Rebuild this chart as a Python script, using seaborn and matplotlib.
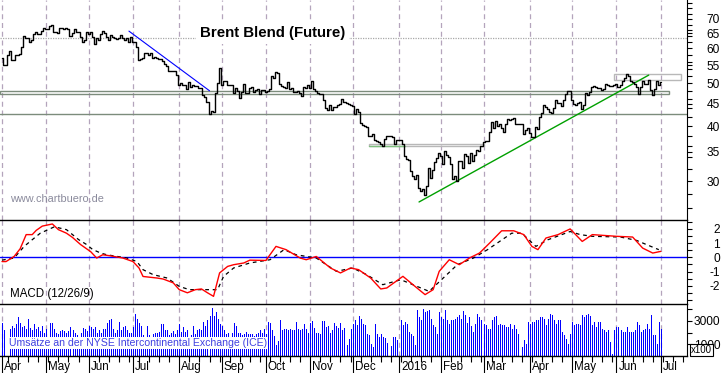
import numpy as np
import pandas as pd
import matplotlib
matplotlib.use("Agg")
import matplotlib.pyplot as plt
import seaborn as sns
from matplotlib.patches import Rectangle
from matplotlib.ticker import FixedLocator, FixedFormatter, NullFormatter

# ---------------- data ----------------
close_15_apr = [57.10, 54.95, 54.95, 58.12, 59.10, 56.57, 56.57, 57.87, 57.93, 58.43, 60.32, 63.98, 63.45, 63.45, 62.08, 62.72, 64.85, 65.28, 64.83, 64.64, 65.84, 66.78]
close_15_may = [66.46, 66.46, 67.52, 67.77, 65.54, 65.39, 64.91, 66.86, 66.81, 66.59, 66.81, 66.27, 64.02, 65.03, 66.54, 65.37, 65.37, 63.72, 62.06, 62.58, 65.56]
close_15_jun = [64.88, 65.49, 63.80, 61.50, 63.31, 62.69, 64.88, 65.70, 65.11, 63.87, 62.61, 64.25, 63.87, 63.26, 63.02, 63.34, 64.45, 63.49, 62.58, 63.26, 62.01, 63.59]
close_15_jul = [62.01, 62.07, 60.32, 56.54, 56.85, 57.05, 58.61, 58.73, 57.85, 58.51, 57.05, 57.45, 57.10, 56.65, 56.86, 56.13, 55.27, 54.62, 53.47, 53.30, 53.38, 53.38, 52.21]
close_15_aug = [49.52, 49.99, 49.59, 49.52, 48.61, 50.41, 49.18, 49.66, 49.22, 49.19, 48.74, 48.81, 47.16, 46.62, 45.46, 42.69, 43.21, 43.14, 47.56, 50.05, 54.15]
close_15_sep = [49.56, 50.50, 50.68, 49.61, 49.61, 49.52, 47.58, 48.89, 48.14, 46.37, 47.75, 49.75, 47.47, 47.47, 48.92, 49.08, 47.75, 48.17, 48.60, 47.34, 48.23, 48.37]
close_15_oct = [47.69, 48.13, 48.54, 51.92, 51.33, 53.05, 52.65, 49.86, 49.24, 49.15, 48.71, 50.46, 48.61, 48.71, 47.85, 47.85, 47.99, 47.54, 46.81, 49.05, 48.80, 49.56]
close_15_nov = [48.79, 50.54, 48.58, 47.98, 47.42, 47.19, 47.19, 45.81, 44.06, 43.61, 44.56, 43.57, 44.14, 44.18, 44.66, 44.83, 46.12, 45.46, 45.17, 44.86, 44.61]
close_15_dec = [44.44, 42.49, 43.84, 43.00, 40.73, 40.26, 40.11, 39.73, 37.93, 37.92, 38.45, 37.19, 37.06, 36.88, 36.35, 36.11, 37.36, 37.89, 37.89, 37.89, 37.79, 36.46, 37.28]
close_16_jan = [37.28, 37.22, 36.42, 34.23, 33.75, 33.55, 31.55, 30.86, 30.31, 31.03, 28.94, 28.55, 28.76, 27.88, 29.25, 32.18, 30.50, 31.80, 33.10, 33.89, 34.74]
close_16_feb = [34.24, 32.72, 35.04, 34.46, 34.06, 32.88, 30.32, 30.84, 30.06, 33.36, 33.39, 32.18, 34.50, 34.28, 33.01, 34.69, 33.27, 34.41, 35.29, 35.10, 35.97]
close_16_mar = [36.81, 36.93, 37.07, 38.72, 40.84, 39.65, 41.07, 40.05, 40.39, 39.53, 38.74, 40.33, 41.54, 41.20, 41.54, 41.79, 40.47, 40.44, 40.44, 40.44, 38.28, 39.26, 39.60]
close_16_apr = [38.67, 37.69, 37.87, 39.84, 39.43, 41.94, 42.83, 44.69, 44.18, 43.84, 43.10, 42.91, 44.03, 45.80, 45.20, 45.11, 44.48, 45.74, 47.18, 48.14, 48.13]
close_16_may = [45.83, 44.97, 44.62, 45.01, 45.37, 43.63, 44.66, 47.59, 47.08, 47.83, 48.97, 49.28, 48.93, 48.81, 48.72, 48.35, 48.61, 49.74, 49.59, 49.32, 49.32, 49.69]
close_16_jun = [49.72, 49.17, 49.64, 50.55, 51.44, 52.51, 51.95, 50.54, 50.35, 49.83, 48.97, 47.19, 49.17, 50.65, 49.96, 49.88, 50.91, 48.41, 47.16, 48.58, 50.61, 49.68]
close_16_jul = [50.35]

vol_15_apr = [2800, 2200, 0, 0, 2300, 2600, 2400, 2700, 3300, 2800, 2500, 2600, 2300, 3200, 2400, 2200, 2700, 2300, 2500, 2100, 2600, 2000]
vol_15_may = [2300, 1500, 2800, 2800, 2300, 2000, 1900, 2100, 2200, 2100, 2000, 2100, 2500, 2200, 2000, 1800, 900, 2000, 2400, 2300, 2100]
vol_15_jun = [2600, 2500, 2300, 2500, 2000, 2200, 2000, 2300, 2300, 2800, 3100, 3200, 2300, 2000, 2200, 2900, 2200, 2500, 2600, 2200, 2000, 2000]
vol_15_jul = [2500, 3600, 3200, 2800, 2600, 1800, 1600, 2600, 1800, 1600, 1900, 1950, 2000, 2050, 2750, 2750, 2200, 2200, 1800, 2000, 2100, 1900, 2200]
vol_15_aug = [2750, 2050, 2500, 2050, 2200, 1650, 1800, 2600, 1900, 2200, 2350, 2200, 2900, 2600, 3050, 3450, 4100, 3450, 3750, 3200, 2700]
vol_15_sep = [2600, 2200, 1900, 2000, 1200, 1950, 2800, 2600, 2000, 2000, 1800, 1900, 2050, 1900, 1850, 1900, 1750, 1900, 1950, 2200, 2000, 2300]
vol_15_oct = [1900, 2900, 2850, 2200, 1750, 900, 1300, 3050, 2200, 2350, 2350, 2200, 2350, 2200, 2200, 2900, 2350, 2200, 2350, 2700, 2300, 2000]
vol_15_nov = [2800, 3000, 2400, 2000, 2000, 1900, 3000, 3000, 2500, 2550, 2000, 2250, 2800, 2600, 2400, 2800, 2200, 2400, 910, 1480, 2340]
vol_15_dec = [2770, 3050, 2620, 3400, 3200, 2770, 2620, 1910, 1770, 1060, 770, 2770, 1910, 1630, 1910, 1630, 1500, 1110, 0, 830, 1630, 1630, 1340]
vol_16_jan = [0, 3050, 2620, 2910, 2770, 2050, 1910, 1700, 910, 3900, 3340, 3050, 3990, 3760, 3850, 3900, 3200, 2620, 2480, 1910, 3760]
vol_16_feb = [3340, 3200, 3900, 3050, 2770, 3050, 3100, 3200, 3340, 3480, 3200, 3820, 3480, 2820, 3340, 2600, 2050, 2770, 3620, 3340, 3050]
vol_16_mar = [2770, 2620, 2340, 2340, 3050, 3340, 3400, 2620, 2770, 2620, 2620, 2480, 2480, 2770, 2340, 2620, 2340, 1910, 0, 770, 1340, 1060, 2910]
vol_16_apr = [2770, 2910, 2910, 3050, 3050, 3340, 3340, 3200, 2620, 3200, 3620, 3480, 3050, 2770, 3050, 3050, 2050, 1770, 1480, 1060, 1910]
vol_16_may = [2910, 2620, 2770, 2770, 2620, 3480, 3340, 3480, 3620, 3400, 2620, 2910, 2480, 2910, 2910, 2340, 2200, 2050, 2200, 1200, 200, 2200]
vol_16_jun = [2480, 2480, 2200, 2050, 2050, 2480, 2050, 2050, 2050, 2200, 2910, 2620, 2050, 2200, 2340, 2770, 2340, 3480, 1800, 1770, 1060, 2910]
vol_16_jul = [2340]

# MACD (12/26/9): session number (trading day since 2015-04-01) and value
macd_session = [0, 2, 6, 9, 12, 15, 17, 20, 25, 28, 32, 35, 39, 44, 47, 50, 54, 60, 65, 68,
                70, 77, 80, 85, 88, 92, 96, 99, 102, 105, 108, 112, 115, 120, 123, 131, 136, 141, 148, 151,
                156, 163, 168, 173, 177, 183, 188, 191, 199, 204, 210, 214, 217, 222, 227, 232, 237, 242, 248, 254,
                259, 263, 266, 270, 276, 282, 288, 293, 305, 313, 318, 323, 327]
macd_value = [-0.3, -0.3, 0.06, 0.6, 1.6, 1.6, 1.9, 2.2, 2.35, 1.95, 1.7, 1.4, 0.9, 0.4, -0.05, 0.18, 0.1, -0.05, -0.3, -0.75,
              -1.35, -1.46, -1.53, -1.8, -2.28, -2.5, -2.28, -2.23, -2.5, -2.75, -1.1, -0.64, -0.52, -0.4, -0.2, -0.22, 0.77, 0.54, -0.05, -0.17,
              0.06, -0.75, -1.1, -0.75, -0.87, -1.46, -2.23, -2.16, -1.34, -1.93, -2.63, -2.28, -0.99, -0.17, -0.52, -0.05, 0.3, 1.0, 1.87, 1.87,
              1.6, 0.77, 0.54, 1.36, 1.6, 2.0, 1.12, 1.6, 1.48, 1.43, 0.65, 0.3, 0.42]
signal_session = [0, 6, 11, 15, 19, 26, 32, 38, 42, 45, 49, 52, 62, 67, 70, 75, 82, 88, 93, 102,
                  107, 110, 115, 123, 133, 140, 146, 156, 166, 174, 181, 189, 198, 206, 212, 219, 226, 234, 241, 253,
                  258, 265, 271, 282, 287, 293, 307, 315, 320, 326]
signal_value = [-0.2, -0.05, 0.77, 1.24, 1.7, 2.15, 1.95, 1.25, 0.9, 0.55, 0.3, 0.18, -0.05, -0.3, -0.87, -1.22, -1.46, -2.05, -2.28, -2.28,
                -2.28, -1.34, -0.75, -0.4, -0.17, 0.54, 0.18, -0.05, -0.99, -0.75, -1.22, -1.93, -1.58, -2.05, -2.4, -1.46, -0.52, -0.05, 0.54, 1.7,
                1.7, 0.77, 1.24, 1.82, 1.6, 1.48, 1.43, 1.19, 0.89, 0.54]

month_labels = ["Apr", "May", "Jun", "Jul", "Aug", "Sep", "Oct", "Nov", "Dec",
                "2016", "Feb", "Mar", "Apr", "May", "Jun", "Jul"]
price_major_ticks = [30, 35, 40, 45, 50, 55, 60, 65, 70]
macd_major_ticks = [-2, -1, 0, 1, 2]
vol_ticks = [1000, 2000, 3000, 4000]
vol_tick_labels = ["1000", "", "3000", ""]

# drawn analysis objects (dates, prices)
down_trend = (["2015-06-29", "2015-08-24"], [65.7, 48.1])
up_trend = (["2016-01-15", "2016-06-23"], [26.9, 52.2])
zone_a = ("2015-03-31", "2016-07-07", 47.2, 48.1)
zone_b = ("2016-05-31", "2016-07-15", 51.0, 52.6)
zone_c = ("2015-12-11", "2016-03-01", 36.0, 36.5)
zone_c_green = ("2015-12-11", "2016-01-06", 36.0)
support_line = 42.7
upper_line = 63.3

# ---------------- assemble ----------------
close = (close_15_apr + close_15_may + close_15_jun + close_15_jul + close_15_aug + close_15_sep +
         close_15_oct + close_15_nov + close_15_dec + close_16_jan + close_16_feb + close_16_mar +
         close_16_apr + close_16_may + close_16_jun + close_16_jul)
volume = (vol_15_apr + vol_15_may + vol_15_jun + vol_15_jul + vol_15_aug + vol_15_sep +
          vol_15_oct + vol_15_nov + vol_15_dec + vol_16_jan + vol_16_feb + vol_16_mar +
          vol_16_apr + vol_16_may + vol_16_jun + vol_16_jul)

axis_days = pd.bdate_range("2015-03-31", "2016-07-20")
day_pos = pd.Series(np.arange(len(axis_days)) - 1, index=axis_days)


def pos(d):
    return float(day_pos[pd.Timestamp(d)])


dates = pd.bdate_range("2015-04-01", "2016-07-01")
assert len(dates) == len(close) == len(volume)
x = day_pos[dates].values
df_price = pd.DataFrame({"x": x, "close": close, "volume": volume})

df_macd = pd.DataFrame({"x": day_pos[dates[macd_session]].values, "macd": macd_value})
df_signal = pd.DataFrame({"x": day_pos[dates[signal_session]].values, "signal": signal_value})

month_starts = [day_pos[axis_days[(axis_days.year == y) & (axis_days.month == m)][0]]
                for y, m in [(2015, 4), (2015, 5), (2015, 6), (2015, 7), (2015, 8), (2015, 9),
                             (2015, 10), (2015, 11), (2015, 12), (2016, 1), (2016, 2), (2016, 3),
                             (2016, 4), (2016, 5), (2016, 6), (2016, 7)]]
mondays = [day_pos[d] for d in axis_days if d.weekday() == 0]

# ---------------- style ----------------
sns.set_theme(style="white")
plt.rcParams["font.family"] = ["Liberation Sans", "DejaVu Sans"]
plt.rcParams["axes.unicode_minus"] = False

W, H = 723, 373
fig = plt.figure(figsize=(W / 100, H / 100), dpi=100)
fig.patch.set_facecolor("white")
PLOT_R = 687


def box(top, bottom):
    return [0, 1 - bottom / H, PLOT_R / W, (bottom - top) / H]


ax1 = fig.add_axes(box(0, 220))
ax2 = fig.add_axes(box(220, 304))
ax3 = fig.add_axes(box(304, 356))
xlim = (pos("2015-03-31") + 0.01, pos("2016-07-20"))
grid_kw = dict(color="#b4a4bc", lw=0.9, ls=(0, (4, 3)), zorder=0.5)

for ax in (ax1, ax2, ax3):
    ax.set_facecolor("white")
    ax.set_xlim(*xlim)
    for m in month_starts:
        ax.axvline(m, **grid_kw)
    for s in ("left", "top", "bottom"):
        ax.spines[s].set_visible(False)
    ax.spines["right"].set_visible(True)
    ax.spines["right"].set_color("black")
    ax.spines["right"].set_linewidth(0.8)
    ax.yaxis.tick_right()
    ax.tick_params(axis="y", which="both", direction="out", length=3.6, width=0.8,
                   colors="black", labelsize=8.6, pad=20.2, right=True, left=False)
    ax.set_xticks([])
    ax.set_xlabel("")
    ax.set_ylabel("")

# ---------------- price panel ----------------
ax1.set_yscale("log")
ax1.set_ylim(24.48, 77.3)
ax1.yaxis.set_major_locator(FixedLocator(price_major_ticks))
ax1.yaxis.set_major_formatter(FixedFormatter([str(t) for t in price_major_ticks]))
ax1.yaxis.set_minor_locator(FixedLocator(list(range(26, 78, 2))))
ax1.yaxis.set_minor_formatter(NullFormatter())

ax1.axhline(upper_line, color="#a8a8a8", lw=0.9, ls=(0, (1, 1)), zorder=1)
ax1.axhline(support_line, color="#7c8c7c", lw=1.0, zorder=1)
for (d0, d1, lo, hi), ec in [(zone_a, "#7c8c7c"), (zone_b, "#b8b8b8"), (zone_c, "#b8b8b8")]:
    ax1.add_patch(Rectangle((pos(d0), lo), pos(d1) - pos(d0), hi - lo, fill=False,
                            ec=ec, lw=1.0, zorder=1))
ax1.plot([pos(zone_c_green[0]), pos(zone_c_green[1])], [zone_c_green[2]] * 2,
         color="#7fc07f", lw=1.0, zorder=1.2)
ax1.plot([pos(d) for d in down_trend[0]], down_trend[1], color="#0000ff", lw=0.8, zorder=1.5)
ax1.plot([pos(d) for d in up_trend[0]], up_trend[1], color="#00a000", lw=1.0, zorder=1.5)

sns.lineplot(data=df_price, x="x", y="close", ax=ax1, color="black", lw=1.0,
             drawstyle="steps-mid", estimator=None, zorder=3)
ax1.set_xlabel("")
ax1.set_ylabel("")
ax1.set_xticks([])

# ---------------- MACD panel ----------------
ax2.set_ylim(-3.29, 2.63)
ax2.spines["top"].set_visible(True)
ax2.spines["top"].set_color("black")
ax2.spines["top"].set_linewidth(1.0)
ax2.yaxis.set_major_locator(FixedLocator(macd_major_ticks))
ax2.yaxis.set_major_formatter(FixedFormatter([str(t) for t in macd_major_ticks]))
ax2.yaxis.set_minor_locator(FixedLocator(list(np.arange(-3.0, 2.6, 0.5))))
ax2.yaxis.set_minor_formatter(NullFormatter())
ax2.axhline(0, color="#0000ff", lw=1.0, zorder=1)
sns.lineplot(data=df_signal, x="x", y="signal", ax=ax2, color="black", lw=0.9,
             dashes=False, estimator=None, zorder=3, linestyle=(0, (3, 3)))
sns.lineplot(data=df_macd, x="x", y="macd", ax=ax2, color="#ff0000", lw=1.0,
             estimator=None, zorder=4)
ax2.set_xlabel("")
ax2.set_ylabel("")
ax2.set_xticks([])

# ---------------- volume panel ----------------
ax3.set_ylim(0, 4450)
ax3.spines["top"].set_visible(True)
ax3.spines["top"].set_color("black")
ax3.spines["top"].set_linewidth(1.0)
ax3.spines["bottom"].set_visible(True)
ax3.spines["bottom"].set_color("black")
ax3.spines["bottom"].set_linewidth(1.0)
ax3.yaxis.set_major_locator(FixedLocator(vol_ticks))
ax3.yaxis.set_major_formatter(FixedFormatter(vol_tick_labels))
ax3.vlines(df_price["x"], 0, df_price["volume"], colors="#0000ff", lw=0.5,
           antialiased=False, zorder=2)
ax3.set_xticks(month_starts)
ax3.set_xticks(mondays, minor=True)
ax3.set_xticklabels([])
ax3.tick_params(axis="x", which="major", direction="out", length=12.5, width=0.8,
                colors="black", bottom=True)
ax3.tick_params(axis="x", which="minor", direction="out", length=4.3, width=0.8,
                colors="black", bottom=True)
for m, lab in zip(month_starts, month_labels):
    ax3.annotate(lab, xy=(m, 0), xycoords=("data", "axes fraction"), xytext=(2, -11),
                 textcoords="offset pixels", ha="left", va="center", fontsize=8.4,
                 color="black", annotation_clip=False)

for ax in (ax1, ax2, ax3):
    for lbl in ax.get_yticklabels():
        lbl.set_horizontalalignment("right")

# ---------------- texts ----------------
fig.text(200 / W, 1 - 37.5 / H, "Brent Blend (Future)", fontsize=10.8, fontweight="bold",
         va="baseline", ha="left", color="black",
         bbox=dict(boxstyle="square,pad=0.25", fc="white", ec="none"))
fig.text(10 / W, 1 - 198.7 / H, "www.chartbuero.de", fontsize=7.8, color="#8a8a9c",
         va="center", ha="left")
fig.text(10 / W, 1 - 294.5 / H, "MACD (12/26/9)", fontsize=8.3, color="black",
         va="center", ha="left")
fig.text(9 / W, 1 - 343 / H, "Umsätze an der NYSE Intercontinental Exchange (ICE)",
         fontsize=7.6, color="#4040e0", va="center", ha="left",
         bbox=dict(boxstyle="square,pad=0.1", fc="white", ec="none"))
fig.text(691 / W, 1 - 350 / H, "x100", fontsize=7.0, color="black", va="center", ha="left",
         bbox=dict(boxstyle="square,pad=0.15", fc="white", ec="black", lw=0.8))

fig.savefig("out.png", dpi=100, facecolor="white")
